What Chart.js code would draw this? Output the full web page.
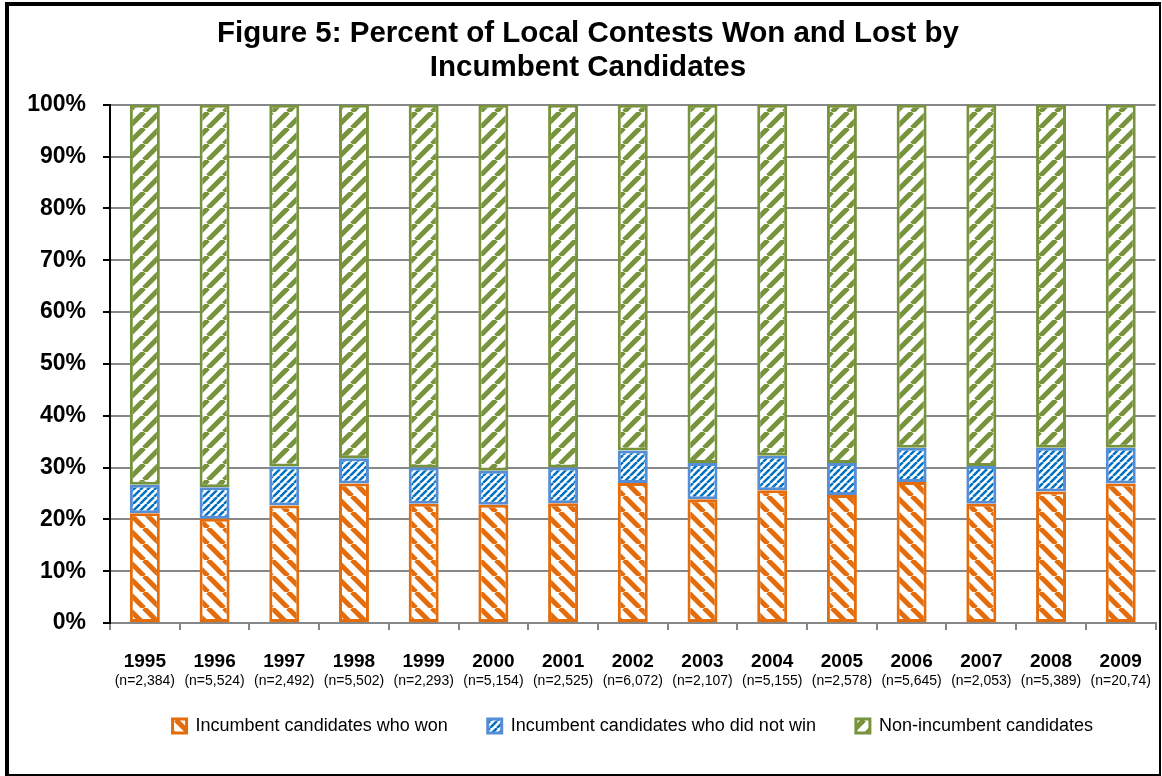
<!DOCTYPE html>
<html>
<head>
<meta charset="utf-8">
<script src="https://cdn.jsdelivr.net/npm/chart.js@4.4.1/dist/chart.umd.min.js"></script>
<style>
  html, body { margin: 0; padding: 0; background: #fff; }
  #wrap { position: relative; width: 1162px; height: 776px; }
  #frame {
    position: absolute; left: 5px; top: 2px; width: 1150px; height: 768px;
    border-left: 4px solid #000; border-top: 4px solid #000;
    border-right: 2px solid #000; border-bottom: 3px solid #000;
    pointer-events: none;
  }
</style>
</head>
<body>
<div id="wrap">
  <canvas id="chart" width="1162" height="776"></canvas>
  <div id="frame"></div>
</div>
<script>
/* ========= Datos ========= */
const years = ['1995', '1996', '1997', '1998', '1999', '2000', '2001', '2002',
               '2003', '2004', '2005', '2006', '2007', '2008', '2009'];
const sampleSizes = ['(n=2,384)', '(n=5,524)', '(n=2,492)', '(n=5,502)', '(n=2,293)',
                     '(n=5,154)', '(n=2,525)', '(n=6,072)', '(n=2,107)', '(n=5,155)',
                     '(n=2,578)', '(n=5,645)', '(n=2,053)', '(n=5,389)', '(n=20,74)'];
const incumbentsWon =    [21.2, 20.1, 22.7, 26.9, 23.0, 22.8, 23.1, 27.0, 23.9, 25.6, 24.7, 27.2, 23.0, 25.4, 26.9];
const incumbentsLost =   [5.5, 6.1, 7.5, 4.9, 7.0, 6.6, 6.9, 6.3, 7.0, 6.7, 6.2, 6.6, 7.3, 8.4, 6.9];
const nonIncumbents =    [73.3, 73.8, 69.8, 68.2, 70.0, 70.6, 70.0, 66.7, 69.1, 67.7, 69.1, 66.2, 69.7, 66.2, 66.2];
const seriesLabels = ['Incumbent candidates who won', 'Incumbent candidates who did not win', 'Non-incumbent candidates'];

const FONT = "'Liberation Sans', Arial, sans-serif";

/* ========= Tramas rayadas ========= */
function stripes(color, size, lineW, dir) {
  const c = document.createElement('canvas');
  c.width = size; c.height = size;
  const g = c.getContext('2d');
  g.fillStyle = '#fff';
  g.fillRect(0, 0, size, size);
  g.strokeStyle = color;
  g.lineWidth = lineW;
  for (const o of [-size, 0, size]) {
    g.beginPath();
    if (dir === '/') { g.moveTo(o, size); g.lineTo(o + size, 0); }
    else { g.moveTo(o, 0); g.lineTo(o + size, size); }
    g.stroke();
  }
  return g.createPattern(c, 'repeat');
}

const ctx = document.getElementById('chart').getContext('2d');

/* dibuja los (n=...) bajo cada año */
const sampleLabels = {
  id: 'sampleLabels',
  afterDraw(chart) {
    const x = chart.scales.x;
    const c = chart.ctx;
    c.save();
    c.font = '14px ' + FONT;
    c.fillStyle = '#000';
    c.textAlign = 'center';
    c.textBaseline = 'middle';
    sampleSizes.forEach((s, i) => c.fillText(s, x.getPixelForValue(i), chart.chartArea.bottom + 58));
    c.restore();
  }
};

const common = { borderWidth: 3, borderSkipped: false, barPercentage: 0.43, categoryPercentage: 1 };

new Chart(ctx, {
  type: 'bar',
  data: {
    labels: years,
    datasets: [
      { label: seriesLabels[0], data: incumbentsWon, backgroundColor: stripes('#E46C0A', 16, 5, '\\'), borderColor: '#E46C0A', ...common },
      { label: seriesLabels[1], data: incumbentsLost, backgroundColor: stripes('#0070C0', 7, 2.5, '/'), borderColor: '#558ED5', ...common },
      { label: seriesLabels[2], data: nonIncumbents, backgroundColor: stripes('#77933C', 16, 5, '/'), borderColor: '#77933C', ...common },
    ]
  },
  options: {
    responsive: false,
    animation: false,
    layout: { padding: { top: 0, left: 18, right: 4, bottom: 31 } },
    scales: {
      x: {
        stacked: true,
        afterFit: (s) => { s.height = 54; },
        grid: { offset: true, drawOnChartArea: false, color: '#878787', lineWidth: 2, tickLength: 7 },
        border: { color: '#878787', width: 2 },
        ticks: { color: '#000', padding: 20, font: { family: FONT, size: 19, weight: 'bold' } }
      },
      y: {
        stacked: true,
        min: 0,
        max: 100,
        afterFit: (s) => { s.width = 92; },
        ticks: { stepSize: 10, color: '#000', padding: 17, callback: (v) => v + '%', font: { family: FONT, size: 23, weight: 'bold' } },
        grid: { color: '#878787', lineWidth: 2, tickColor: '#000', tickLength: 7 },
        border: { color: '#000', width: 2 }
      }
    },
    plugins: {
      title: {
        display: true,
        text: ['Figure 5: Percent of Local Contests Won and Lost by', 'Incumbent Candidates'],
        color: '#000',
        font: { family: FONT, size: 29.5, weight: 'bold', lineHeight: 1.15 },
        padding: { top: 17, bottom: 20 }
      },
      legend: {
        position: 'bottom',
        fullSize: false,
        labels: { color: '#000', boxWidth: 14, boxHeight: 14, padding: 40, font: { family: FONT, size: 18 } }
      },
      tooltip: { enabled: false }
    }
  },
  plugins: [sampleLabels]
});
</script>
</body>
</html>
